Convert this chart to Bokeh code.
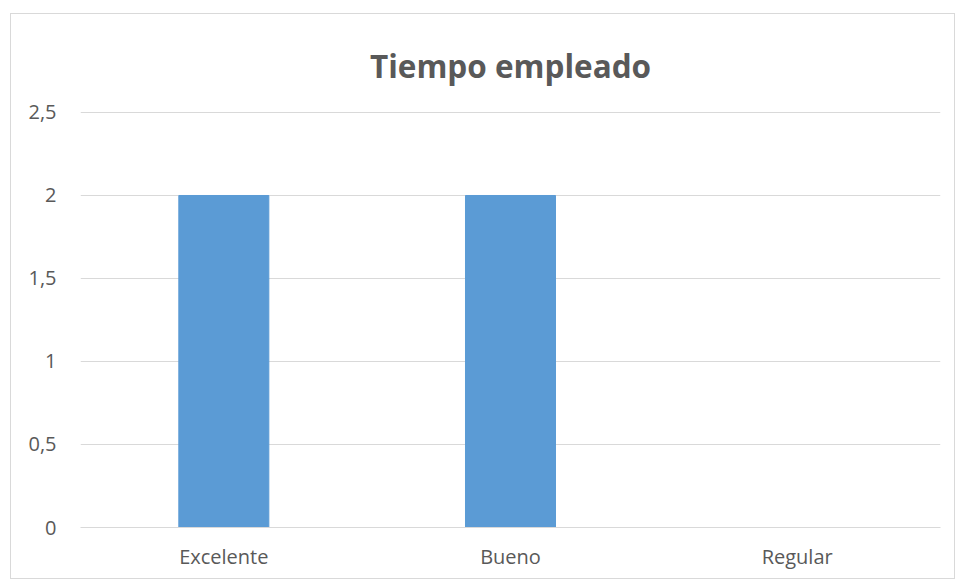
from bokeh.plotting import figure
from bokeh.embed import file_html
from bokeh.resources import INLINE
from bokeh.models import FixedTicker, CustomJSTickFormatter

categories = ["Excelente", "Bueno", "Regular"]
values = [2, 2, 0]
y_ticks = [0, 0.5, 1, 1.5, 2, 2.5]

p = figure(x_range=categories, y_range=(0, 2.506), width=945, height=566,
           output_backend="svg", toolbar_location=None,
           title="Tiempo empleado")
p.min_border_left = 69
p.min_border_right = 16
p.min_border_top = 97
p.min_border_bottom = 53
p.styles = {"border": "1px solid #d9d9d9", "margin-left": "10px", "margin-top": "13px"}

p.vbar(x=categories, top=values, width=0.314, color="#5B9BD5")

p.title.align = "center"
p.title.text_font = "Open Sans"
p.title.text_font_style = "bold"
p.title.text_font_size = "31.5px"
p.title.text_color = "#595959"
p.title.offset = 0
p.title.standoff = 50

p.outline_line_color = None
p.xgrid.grid_line_color = None
p.ygrid.grid_line_color = "#d9d9d9"
p.ygrid.grid_line_width = 1

p.yaxis.ticker = FixedTicker(ticks=y_ticks)
p.yaxis.formatter = CustomJSTickFormatter(code="return tick.toString().replace('.', ',');")
p.yaxis.axis_line_color = None
p.yaxis.major_tick_line_color = None
p.yaxis.minor_tick_line_color = None
p.yaxis.major_label_standoff = 18
p.yaxis.major_label_text_font = "Open Sans"
p.yaxis.major_label_text_font_size = "20px"
p.yaxis.major_label_text_color = "#595959"

p.xaxis.axis_line_color = "#d9d9d9"
p.xaxis.major_tick_line_color = None
p.xaxis.minor_tick_line_color = None
p.xaxis.major_label_standoff = 9
p.xaxis.major_label_text_font = "Open Sans"
p.xaxis.major_label_text_font_size = "20px"
p.xaxis.major_label_text_color = "#595959"

p.x_range.range_padding = 0
p.background_fill_color = "white"
p.border_fill_color = "white"

open("out.html", "w").write(file_html(p, INLINE))
